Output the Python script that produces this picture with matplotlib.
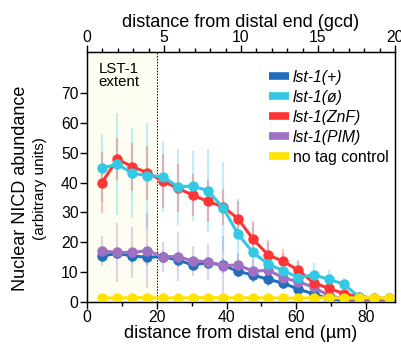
import matplotlib
matplotlib.use("Agg")
import matplotlib.pyplot as plt
from matplotlib.lines import Line2D

plt.rcParams['font.family'] = ['Liberation Sans', 'DejaVu Sans']

# ---- data ----
distance_um = [4.3, 8.7, 13.0, 17.3, 21.7, 26.0, 30.3, 34.6, 39.0, 43.3,
               47.6, 52.0, 56.3, 60.6, 65.0, 69.3, 73.6, 77.9, 82.3, 86.6]

series_labels = ["lst-1(+)", "lst-1(ø)", "lst-1(ZnF)", "lst-1(PIM)", "no tag control"]

lst1_wt = [15.4, 16.3, 15.4, 15.0, 15.2, 14.1, 12.4, 13.2, 12.3, 10.3,
           9.0, 7.6, 6.3, 4.3, 2.7, 1.0, 0.7, 0.5, 0.5, 0.4]
lst1_wt_sd = [2.0, 2.0, 2.5, 2.5, 2.0, 2.5, 2.0, 2.0, 2.5, 2.0,
              2.0, 2.0, 2.0, 2.0, 1.5, 1.0, 0.5, 0.5, 0.5, 0.5]

lst1_null = [44.8, 46.2, 43.1, 42.3, 42.0, 38.6, 38.8, 37.3, 31.6, 22.7,
             16.6, 12.6, 10.5, 8.2, 9.1, 7.6, 6.0, 1.8, 1.4, 1.2]
lst1_null_sd = [11.4, 17.0, 15.0, 17.5, 12.0, 12.7, 11.8, 13.8, 15.2, 11.8,
                10.0, 7.6, 6.0, 6.0, 4.0, 3.0, 2.0, 1.0, 1.0, 0.5]

lst1_znf = [40.0, 47.8, 45.3, 43.3, 40.5, 38.1, 35.8, 33.7, 31.9, 27.9,
            21.0, 15.7, 13.6, 10.6, 6.4, 4.6, 2.8, 1.8, 1.3, 1.2]
lst1_znf_sd = [10.3, 7.0, 8.0, 9.0, 9.0, 8.0, 7.0, 7.0, 6.0, 6.0,
               6.0, 5.0, 4.0, 3.0, 2.5, 2.0, 1.0, 0.5, 0.5, 0.5]

lst1_pim = [17.1, 16.6, 16.6, 17.2, 15.2, 15.2, 13.8, 13.5, 12.2, 12.4,
            10.3, 10.6, 8.1, 6.8, 4.9, 2.2, 1.0, 0.6, 0.5, 0.4]
lst1_pim_sd = [5.0, 10.0, 8.6, 12.5, 5.0, 8.3, 5.0, 6.0, 10.0, 4.0,
               4.0, 4.0, 3.5, 3.0, 2.5, 1.5, 1.0, 0.5, 0.5, 0.5]

no_tag = [1.3, 1.4, 1.4, 1.5, 1.3, 1.4, 1.4, 1.5, 1.4, 1.4,
          1.4, 1.4, 1.3, 1.3, 1.4, 1.4, 1.3, 1.4, 1.5, 1.3]
no_tag_sd = [0.3] * 20

colors = ["#1f6fbd", "#33c8e4", "#ff3535", "#a070c2", "#ffe400"]

# ---- figure ----
fig = plt.figure(figsize=(4.01, 3.44), dpi=100)
ax = fig.add_axes([87 / 401, 1 - 302 / 344, (395 - 87) / 401, (302 - 52) / 344])

xmax_um = 88.3
ax.set_xlim(0, xmax_um)
ax.set_ylim(0, 83.7)

# LST-1 extent shading
ax.axvspan(0, 20, color="#fefdf1", zorder=0, lw=0)
ax.axvline(20, color="black", lw=0.7, ls=(0, (1.5, 1.5)), zorder=1)
ax.text(3.3, 80.5, "LST-1\nextent", fontsize=10.8, va="top", ha="left", linespacing=0.95)

data = [(lst1_wt, lst1_wt_sd), (lst1_null, lst1_null_sd), (lst1_znf, lst1_znf_sd),
        (lst1_pim, lst1_pim_sd), (no_tag, no_tag_sd)]
zorders = {0: 3, 3: 4, 2: 5, 1: 6, 4: 7}
for i, (vals, sd) in enumerate(data):
    ax.errorbar(distance_um, vals, yerr=sd, fmt="none", ecolor=colors[i],
                elinewidth=1.6, alpha=0.3, capsize=0, zorder=2)
for i, (vals, sd) in enumerate(data):
    ax.plot(distance_um, vals, color=colors[i], lw=2.2, marker="o", ms=6.5,
            mec=colors[i], mfc=colors[i], zorder=zorders[i])

# axes styling
for s in ax.spines.values():
    s.set_linewidth(1.0)
ax.set_xticks([0, 20, 40, 60, 80])
ax.set_xticks([10, 30, 50, 70], minor=True)
ax.set_yticks(range(0, 80, 10))
ax.tick_params(axis="both", which="major", direction="out", length=5, width=1,
               labelsize=11.3, pad=1)
ax.tick_params(axis="x", which="minor", direction="out", length=3, width=1)
ax.set_xlabel("distance from distal end (µm)", fontsize=13, labelpad=0)

ax2 = ax.twiny()
ax2.set_xlim(0, 20)
ax2.set_xticks([0, 5, 10, 15, 20])
ax2.set_xticks(range(0, 21), minor=True)
ax2.tick_params(axis="x", which="major", direction="out", length=5, width=1,
                labelsize=11.3, pad=0)
ax2.tick_params(axis="x", which="minor", direction="out", length=3, width=1)
ax2.set_xlabel("distance from distal end (gcd)", fontsize=13, labelpad=2)

fig.text(21 / 401, 1 - 188 / 344, "Nuclear NICD abundance", rotation=90,
         fontsize=13, ha="center", va="center")
fig.text(40 / 401, 1 - 189 / 344, "(arbitrary units)", rotation=90,
         fontsize=11, ha="center", va="center")

handles = [Line2D([0], [0], color=c, lw=5.5, solid_capstyle="butt") for c in colors]
leg = ax.legend(handles, series_labels, loc="upper right", frameon=False,
                fontsize=11.3, handlelength=1.25, handletextpad=0.25,
                labelspacing=0.32, borderaxespad=0.0,
                bbox_to_anchor=(1.0, 0.955))
for t in leg.get_texts()[:4]:
    t.set_style("italic")

fig.savefig("out.png", dpi=100)
